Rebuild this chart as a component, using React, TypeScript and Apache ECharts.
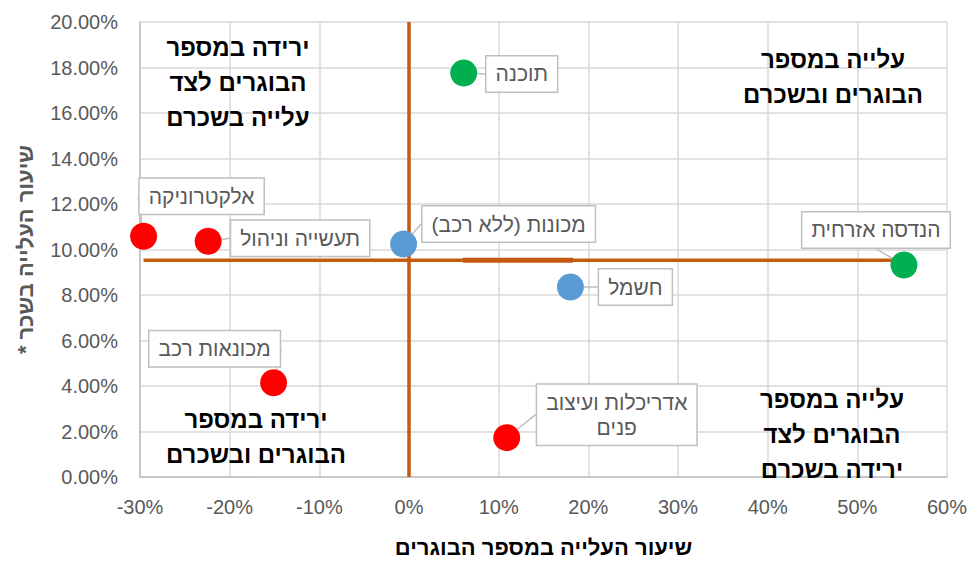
import React, { useEffect, useRef } from "react";
import * as echarts from "echarts";

// ---- data ----
const redNames = ["אלקטרוניקה", "תעשייה וניהול", "מכונאות רכב", "אדריכלות ועיצוב\nפנים"];
const redX = [-29.6, -22.4, -15.1, 10.9];
const redY = [10.58, 10.36, 4.14, 1.73];

const greenNames = ["תוכנה", "הנדסה אזרחית"];
const greenX = [6.1, 55.2];
const greenY = [17.76, 9.32];

const blueNames = ["מכונות (ללא רכב)", "חשמל"];
const blueX = [-0.6, 18.0];
const blueY = [10.24, 8.35];

const verticalLineX = [0, 0];
const verticalLineY = [0, 20];
const horizontalLineX = [-29.6, 55.2];
const horizontalLineY = [9.53, 9.53];
const accentLineX = [6.0, 18.3];
const accentLineY = [9.53, 9.53];

const xMin = -30, xMax = 60, xStep = 10;
const yMin = 0, yMax = 20, yStep = 2;

const xTitle = "שיעור העלייה במספר הבוגרים";
const yTitle = "שיעור העלייה בשכר *";

const quadrantTexts = [
  "ירידה במספר\nהבוגרים לצד\nעלייה בשכרם",
  "עלייה במספר\nהבוגרים ובשכרם",
  "ירידה במספר\nהבוגרים ובשכרם",
  "עלייה במספר\nהבוגרים לצד\nירידה בשכרם",
];

// ---- layout (label offsets from point, in px) ----
const redOffsets = [[58, -40], [92, -3], [-59, -34], [110, -23]];
const greenOffsets = [[58, 1], [-28, -35]];
const blueOffsets = [[105, -20], [65, 0]];
const quadrantPos = [[238, 30], [833, 42], [256, 402], [832, 382]];

const FONT = "'Liberation Sans', 'DejaVu Sans', Arial, sans-serif";
const RLM = "\u200F";
const rtl = (s: string) => s.split("\n").map((l) => RLM + l + RLM).join("\n");

function scatterSeries(names: string[], xs: number[], ys: number[], color: string, offsets: number[][]) {
  return {
    type: "scatter",
    symbolSize: 27,
    z: 5,
    itemStyle: { color, opacity: 1 },
    data: names.map((n, i) => ({ name: n, value: [xs[i], ys[i]] })),
    label: {
      show: true,
      position: "inside",
      formatter: (p: any) => rtl(p.name),
      color: "#595959",
      fontSize: 21,
      fontFamily: FONT,
      lineHeight: 25,
      align: "center",
      backgroundColor: "#ffffff",
      borderColor: "#BFBFBF",
      borderWidth: 1.5,
      padding: [5, 9, 5, 9],
    },
    labelLine: { show: true, lineStyle: { color: "#BFBFBF", width: 1.5 } },
    labelLayout: (p: any) => ({ dx: offsets[p.dataIndex][0], dy: offsets[p.dataIndex][1] }),
    emphasis: { disabled: true },
  };
}

function lineSeries(xs: number[], ys: number[], width: number) {
  return {
    type: "line",
    symbol: "none",
    z: 3,
    silent: true,
    lineStyle: { color: "#C55A11", width },
    data: xs.map((x, i) => [x, ys[i]]),
  };
}

export default function App() {
  const ref = useRef<HTMLDivElement>(null);
  useEffect(() => {
    document.body.style.margin = "0";
    if (!ref.current) return;
    const chart = echarts.init(ref.current, undefined, { renderer: "svg" });
    chart.setOption({
      animation: false,
      backgroundColor: "#ffffff",
      textStyle: { fontFamily: FONT },
      grid: { left: 140, right: 27, top: 22, bottom: 82, containLabel: false },
      xAxis: {
        type: "value",
        min: xMin,
        max: xMax,
        interval: xStep,
        name: xTitle,
        nameLocation: "middle",
        nameGap: 59,
        nameTextStyle: { color: "#000000", fontSize: 22, fontWeight: "bold", fontFamily: FONT },
        axisLine: { show: true, onZero: false, lineStyle: { color: "#BFBFBF", width: 1.5 } },
        axisTick: { show: false },
        splitLine: { show: true, lineStyle: { color: "#D9D9D9", width: 1.5 } },
        axisLabel: { color: "#595959", fontSize: 20, margin: 20, fontFamily: FONT, formatter: (v: number) => v + "%" },
      },
      yAxis: {
        type: "value",
        min: yMin,
        max: yMax,
        interval: yStep,
        name: rtl(yTitle),
        nameLocation: "middle",
        nameRotate: 90,
        nameGap: 104,
        nameTextStyle: { color: "#595959", fontSize: 22, fontWeight: "bold", fontFamily: FONT },
        axisLine: { show: true, onZero: false, lineStyle: { color: "#BFBFBF", width: 1.5 } },
        axisTick: { show: false },
        splitLine: { show: true, lineStyle: { color: "#D9D9D9", width: 1.5 } },
        axisLabel: { color: "#595959", fontSize: 20, margin: 22, fontFamily: FONT, formatter: (v: number) => v.toFixed(2) + "%" },
      },
      graphic: quadrantTexts.map((t, i) => ({
        type: "text",
        x: quadrantPos[i][0],
        y: quadrantPos[i][1],
        z: 10,
        silent: true,
        style: {
          text: rtl(t),
          fill: "#000000",
          fontSize: 24,
          fontWeight: "bold",
          fontFamily: FONT,
          lineHeight: 35,
          align: "center",
          verticalAlign: "top",
        },
      })),
      series: [
        lineSeries(verticalLineX, verticalLineY, 3.5),
        lineSeries(horizontalLineX, horizontalLineY, 3.5),
        lineSeries(accentLineX, accentLineY, 5),
        scatterSeries(redNames, redX, redY, "#FF0000", redOffsets),
        scatterSeries(greenNames, greenX, greenY, "#00B050", greenOffsets),
        scatterSeries(blueNames, blueX, blueY, "#5B9BD5", blueOffsets),
      ],
    });
    return () => chart.dispose();
  }, []);
  return <div ref={ref} style={{ width: 974, height: 563 }} />;
}
